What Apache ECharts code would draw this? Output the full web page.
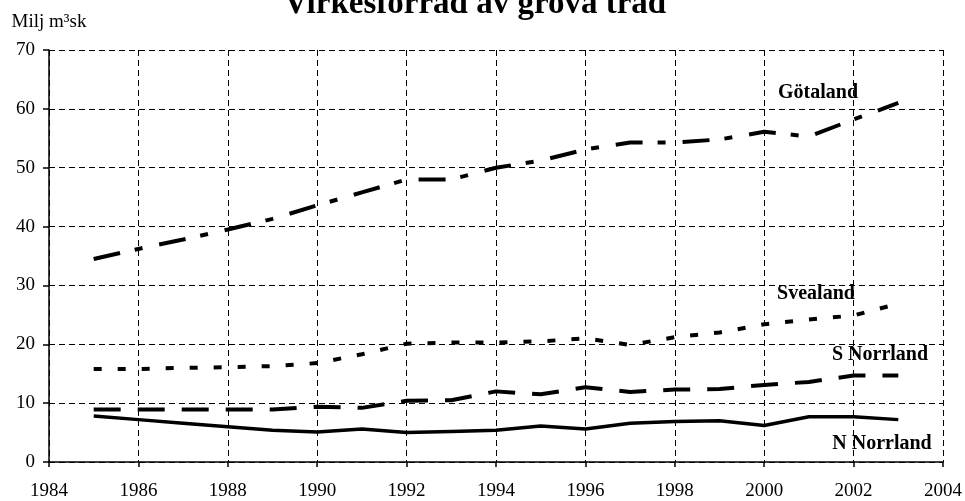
<!DOCTYPE html>
<html>
<head>
<meta charset="utf-8">
<script src="https://cdn.jsdelivr.net/npm/echarts@6/dist/echarts.min.js"></script>
<style>
html,body{margin:0;padding:0;background:#fff;}
#chart{width:965px;height:501px;}
</style>
</head>
<body>
<div id="chart"></div>
<script>
const years = [1985,1986,1987,1988,1989,1990,1991,1992,1993,1994,1995,1996,1997,1998,1999,2000,2001,2002,2003];
const gotaland  = [34.5,36.2,37.8,39.5,41.3,43.6,45.8,48.0,48.0,50.0,51.2,53.1,54.3,54.3,54.8,56.1,55.3,58.2,61.0];
const svealand  = [15.8,15.8,16.0,16.1,16.3,16.8,18.3,20.1,20.3,20.3,20.5,21.0,19.9,21.2,22.0,23.4,24.2,24.9,26.9];
const sNorrland = [8.9,8.9,8.9,8.9,8.9,9.4,9.2,10.4,10.5,12.0,11.5,12.7,11.9,12.3,12.4,13.1,13.6,14.7,14.7];
const nNorrland = [7.8,7.2,6.6,6.0,5.4,5.1,5.6,5.0,5.2,5.4,6.1,5.6,6.6,6.9,7.0,6.2,7.7,7.7,7.2];
const seriesNames = ['Götaland','Svealand','S Norrland','N Norrland'];
const titleText = 'Virkesförråd av grova träd';
const yUnit = 'Milj m³sk';

const FONT = '"Liberation Serif", "Times New Roman", serif';
const pairs = arr => years.map((y, i) => [y, arr[i]]);

const chart = echarts.init(document.getElementById('chart'), null, {renderer: 'canvas'});
const dashGrid = {type: [6, 4], color: '#000', width: 1};

chart.setOption({
  animation: false,
  backgroundColor: '#fff',
  title: {
    text: titleText,
    left: 279,
    top: -17,
    textStyle: {fontFamily: FONT, fontWeight: 'bold', fontSize: 33, color: '#000'}
  },
  grid: {left: 49, right: 22, top: 50, bottom: 38, containLabel: false},
  xAxis: {
    type: 'value', min: 1984, max: 2004, interval: 2,
    axisLine: {show: true, onZero: false, lineStyle: {color: '#000', width: 1.5}},
    axisTick: {show: true, length: 5, lineStyle: {color: '#000', width: 1.5}},
    axisLabel: {fontFamily: FONT, fontSize: 19, color: '#000', margin: 20, formatter: v => String(v)},
    splitLine: {show: true, lineStyle: dashGrid}
  },
  yAxis: {
    type: 'value', min: 0, max: 70, interval: 10,
    name: yUnit, nameLocation: 'end', nameGap: 18,
    nameTextStyle: {fontFamily: FONT, fontSize: 19, color: '#000', align: 'center'},
    axisLine: {show: true, lineStyle: {color: '#000', width: 1.5}},
    axisTick: {show: true, length: 6, lineStyle: {color: '#000', width: 1.5}},
    axisLabel: {fontFamily: FONT, fontSize: 19, color: '#000', margin: 14},
    splitLine: {show: true, lineStyle: dashGrid}
  },
  series: [
    {name: seriesNames[0], type: 'line', data: pairs(gotaland), symbol: 'none',
     lineStyle: {color: '#000', width: 4, type: [27, 15, 8, 17], cap: 'butt'}},
    {name: seriesNames[1], type: 'line', data: pairs(svealand), symbol: 'none',
     lineStyle: {color: '#000', width: 4, type: [8, 16], cap: 'butt'}},
    {name: seriesNames[2], type: 'line', data: pairs(sNorrland), symbol: 'none',
     lineStyle: {color: '#000', width: 4, type: [27, 17], cap: 'butt'}},
    {name: seriesNames[3], type: 'line', data: pairs(nNorrland), symbol: 'none',
     lineStyle: {color: '#000', width: 3.5}}
  ],
  graphic: [
    {type: 'text', x: 818, y: 93, style: {text: seriesNames[0], font: 'bold 20px ' + FONT, fill: '#000', align: 'center', verticalAlign: 'middle'}},
    {type: 'text', x: 816, y: 294, style: {text: seriesNames[1], font: 'bold 20px ' + FONT, fill: '#000', align: 'center', verticalAlign: 'middle'}},
    {type: 'text', x: 880, y: 355, style: {text: seriesNames[2], font: 'bold 20px ' + FONT, fill: '#000', align: 'center', verticalAlign: 'middle'}},
    {type: 'text', x: 882, y: 444, style: {text: seriesNames[3], font: 'bold 20px ' + FONT, fill: '#000', align: 'center', verticalAlign: 'middle'}}
  ]
});
</script>
</body>
</html>
